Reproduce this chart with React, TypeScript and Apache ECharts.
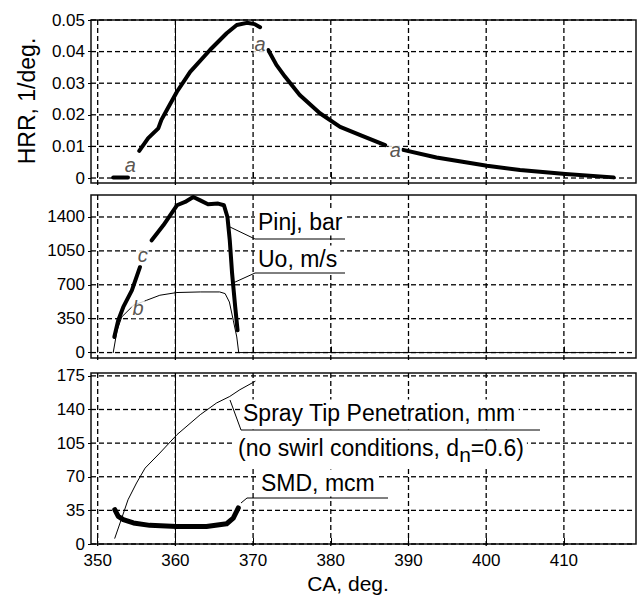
import React, { useEffect, useRef } from 'react';
import * as echarts from 'echarts';

// ---- tick values ----
const xTicks = [350, 360, 370, 380, 390, 400, 410];
const hrrTicks = [0, 0.01, 0.02, 0.03, 0.04, 0.05];
const pinjTicks = [0, 350, 700, 1050, 1400];
const sprayTicks = [0, 35, 70, 105, 140, 175];
const tdcCA = 360;

// ---- HRR, 1/deg. (four segments, gaps where the "a" marks sit) ----
const hrr1CA = [352.0, 353.9];
const hrr1 = [0.0002, 0.0002];
const hrr2CA = [355.35, 356.5, 357.8, 358.2, 358.9, 360.2, 361.9, 364.45, 366.6, 367.9, 369.2, 370.2, 370.9];
const hrr2 = [0.0086, 0.0126, 0.0157, 0.0184, 0.0215, 0.0273, 0.0336, 0.0405, 0.0458, 0.0484, 0.0491, 0.0487, 0.0477];
const hrr3CA = [371.95, 373.0, 374.1, 376.0, 378.6, 381.2, 383.8, 387.0];
const hrr3 = [0.0405, 0.0358, 0.0321, 0.0263, 0.0205, 0.0162, 0.0136, 0.0104];
const hrr4CA = [389.3, 393.6, 400.1, 404.35, 410.2, 416.4];
const hrr4 = [0.0089, 0.0065, 0.0039, 0.0025, 0.0013, 0.0002];
const hrrMarkCA = [354.2, 370.9, 388.3];
const hrrMark = [0.0041, 0.0424, 0.0089];

// ---- Pinj, bar (two segments) ----
const pinj1CA = [352.14, 352.65, 353.3, 354.4, 355.45];
const pinj1 = [161, 333, 471, 643, 884];
const pinj2CA = [356.95, 358.45, 360.2, 361.25, 362.3, 363.2, 364.2, 365.5, 366.25, 366.7, 367.0, 367.3, 367.7, 368.0];
const pinj2 = [1159, 1314, 1521, 1555, 1607, 1572, 1531, 1538, 1521, 1400, 1159, 816, 471, 230];

// ---- Uo, m/s ----
const uoCA = [352.0, 352.5, 353.1, 354.6, 356.3, 358.0, 360.2, 363.2, 365.7, 366.4, 366.95, 367.45, 367.9, 368.15, 416.4];
const uo = [0, 230, 368, 488, 540, 592, 620, 626, 626, 609, 522, 333, 161, 0, 0];

// ---- Spray tip penetration, mm ----
const sprayCA = [352.2, 353.1, 353.9, 355.0, 356.1, 358.0, 360.2, 363.2, 365.3, 367.0, 368.3, 370.25];
const spray = [6, 27, 46, 63.5, 79, 94.7, 113.8, 134.6, 146.8, 153.6, 160.6, 169.3];

// ---- SMD, mcm ----
const smdCA = [352.2, 352.65, 353.3, 354.6, 356.7, 360.2, 364.0, 366.6, 367.45, 368.1];
const smd = [35.7, 28.7, 25.3, 21.9, 19.4, 18.3, 18.3, 21.1, 27, 37.5];

// ---- letter marks in middle panel ----
const cMarkCA = [355.8];
const cMark = [1005];
const bMarkCA = [355.2];
const bMark = [457];

const zip = (xs: number[], ys: number[]) => xs.map((x, i) => [x, ys[i]]);

const FONT = '"Liberation Sans", Arial, sans-serif';

const X_MIN = 349.14;
const X_MAX = 419.28;
const PLOT_W = 545;

export default function App() {
  const ref = useRef<HTMLDivElement>(null);
  useEffect(() => {
    if (!ref.current) return;
    const chart = echarts.init(ref.current, null, { renderer: 'svg' });

    const gridBase = { left: 91, width: PLOT_W, show: true, borderColor: '#111', borderWidth: 1.5, backgroundColor: 'transparent' };

    const xAxisBase = (gi: number, showLabels: boolean) => ({
      type: 'value', gridIndex: gi, min: X_MIN, max: X_MAX,
      axisLine: { show: false },
      axisTick: { show: true, inside: true, length: 6, customValues: xTicks.slice(), lineStyle: { color: '#000' } },
      axisLabel: { show: showLabels, customValues: xTicks.slice(), color: '#000', fontFamily: FONT, fontSize: 17, margin: 8 },
      splitLine: { show: false },
    });
    const yAxisBase = (gi: number, min: number, max: number, ticks: number[], fmt: (v: number) => string) => ({
      type: 'value', gridIndex: gi, min, max,
      axisLine: { show: false },
      axisTick: { show: true, inside: false, length: 3, customValues: ticks.slice(), lineStyle: { color: '#000' } },
      axisLabel: { show: true, customValues: ticks.slice(), color: '#000', fontFamily: FONT, fontSize: 17, margin: 6, formatter: fmt },
      splitLine: { show: false },
    });

    // dashed grid: each dash (5px on, 3px off) is a thin rectangle symbol placed through the axes
    const dashSeries = (gi: number, data: number[][], size: number[], withTdc: boolean) => ({
      type: 'scatter', xAxisIndex: gi, yAxisIndex: gi, data, symbol: 'rect', symbolSize: size,
      itemStyle: { color: '#000', opacity: 1 }, silent: true, z: 1, large: false, progressive: 0,
      markLine: withTdc ? {
        silent: true, symbol: ['none', 'none'], label: { show: false },
        lineStyle: { color: '#000', type: 'solid', width: 1 },
        data: [{ xAxis: tdcCA }],
      } : undefined,
    });
    const gridDashes = (gi: number, yMin: number, yMax: number, heightPx: number, yTicks: number[]) => {
      const yu = (yMax - yMin) / heightPx;
      const xu = (X_MAX - X_MIN) / PLOT_W;
      const vData: number[][] = [];
      const hData: number[][] = [];
      for (const x of xTicks) {
        for (let k = 0; (k * 8 + 5) * yu <= yMax - yMin + 3 * yu; k++) {
          vData.push([x, yMax - (k * 8 + 2.5) * yu]);
        }
      }
      for (const yv of yTicks) {
        for (let k = 0; (k * 8 + 5) * xu <= X_MAX - X_MIN + 3 * xu; k++) {
          hData.push([X_MIN + (k * 8 + 2.5) * xu, yv]);
        }
      }
      return [dashSeries(gi, vData, [1.3, 5], true), dashSeries(gi, hData, [5, 1.3], false)];
    };

    const thick = (w: number) => ({ color: '#000', width: w, cap: 'round', join: 'round' });
    const lineSeries = (data: number[][], gi: number, w: number) => ({
      type: 'line', xAxisIndex: gi, yAxisIndex: gi, data, showSymbol: false, symbol: 'none',
      lineStyle: thick(w), silent: true, z: 3,
    });
    const letterSeries = (data: number[][], gi: number, txt: string) => ({
      type: 'scatter', xAxisIndex: gi, yAxisIndex: gi, data, symbolSize: 1, itemStyle: { color: 'transparent' },
      silent: true, z: 5,
      label: {
        show: true, position: 'inside', formatter: txt, fontStyle: 'italic', fontFamily: FONT, fontSize: 20,
        color: '#2e281e', backgroundColor: '#fff', padding: [0, 1, 0, 1],
      },
    });

    const annText = (text: string, x: number, y: number, extra: any = {}) => ({
      type: 'text', x, y, z: 100,
      style: {
        text, fill: '#000', font: `23px ${FONT}`, textVerticalAlign: 'middle',
        backgroundColor: '#fff', padding: [2, 3, 2, 3], ...extra,
      },
    });
    const pl = (pts: number[][]) => ({ type: 'polyline', z: 101, shape: { points: pts }, style: { stroke: '#000', lineWidth: 1, fill: 'none' } });

    chart.setOption({
      animation: false,
      backgroundColor: '#fff',
      grid: [
        { ...gridBase, top: 20, height: 163 },
        { ...gridBase, top: 195, height: 163 },
        { ...gridBase, top: 373, height: 171 },
      ],
      xAxis: [xAxisBase(0, false), xAxisBase(1, false), xAxisBase(2, true)],
      yAxis: [
        yAxisBase(0, -0.00158, 0.05, hrrTicks, (v: number) => (v === 0 ? '0' : v.toFixed(2))),
        yAxisBase(1, -56, 1627, pinjTicks, (v: number) => String(v)),
        yAxisBase(2, 0, 178, sprayTicks, (v: number) => String(v)),
      ],
      series: [
        ...gridDashes(0, -0.00158, 0.05, 163, hrrTicks),
        ...gridDashes(1, -56, 1627, 163, pinjTicks),
        ...gridDashes(2, 0, 178, 171, sprayTicks),
        lineSeries(zip(hrr1CA, hrr1), 0, 4),
        lineSeries(zip(hrr2CA, hrr2), 0, 4),
        lineSeries(zip(hrr3CA, hrr3), 0, 4),
        lineSeries(zip(hrr4CA, hrr4), 0, 4),
        letterSeries(zip(hrrMarkCA, hrrMark), 0, 'a'),
        lineSeries(zip(uoCA, uo), 1, 1),
        lineSeries(zip(pinj1CA, pinj1), 1, 4),
        lineSeries(zip(pinj2CA, pinj2), 1, 4),
        letterSeries(zip(cMarkCA, cMark), 1, 'c'),
        letterSeries(zip(bMarkCA, bMark), 1, 'b'),
        lineSeries(zip(sprayCA, spray), 2, 1),
        lineSeries(zip(smdCA, smd), 2, 5),
      ],
      graphic: [
        {
          type: 'text', x: 27, y: 101, rotation: Math.PI / 2, z: 100,
          style: { text: 'HRR, 1/deg.', fill: '#000', font: `23px ${FONT}`, textAlign: 'center', textVerticalAlign: 'middle' },
        },
        {
          type: 'text', x: 348, y: 583, z: 100,
          style: { text: 'CA, deg.', fill: '#000', font: `21px ${FONT}`, textAlign: 'center', textVerticalAlign: 'middle' },
        },
        annText('Pinj, bar', 255, 222),
        pl([[230, 227], [255, 239], [345, 239]]),
        annText('Uo, m/s', 255, 259),
        pl([[233, 283], [255, 273], [345, 273]]),
        annText('Spray Tip Penetration, mm', 240, 413),
        pl([[230, 400], [241, 430], [540, 430]]),
        annText('(no swirl conditions, d{n|n}=0.6)', 235, 448, {
          rich: { n: { fontSize: 21, fontFamily: FONT, padding: [12, 0, 0, 0] } },
        }),
        annText('SMD, mcm', 258, 483),
        pl([[241, 503], [247, 498], [388, 498]]),
      ],
    });
    return () => chart.dispose();
  }, []);
  return <div ref={ref} style={{ position: 'fixed', left: 0, top: 0, width: 640, height: 595 }} />;
}
